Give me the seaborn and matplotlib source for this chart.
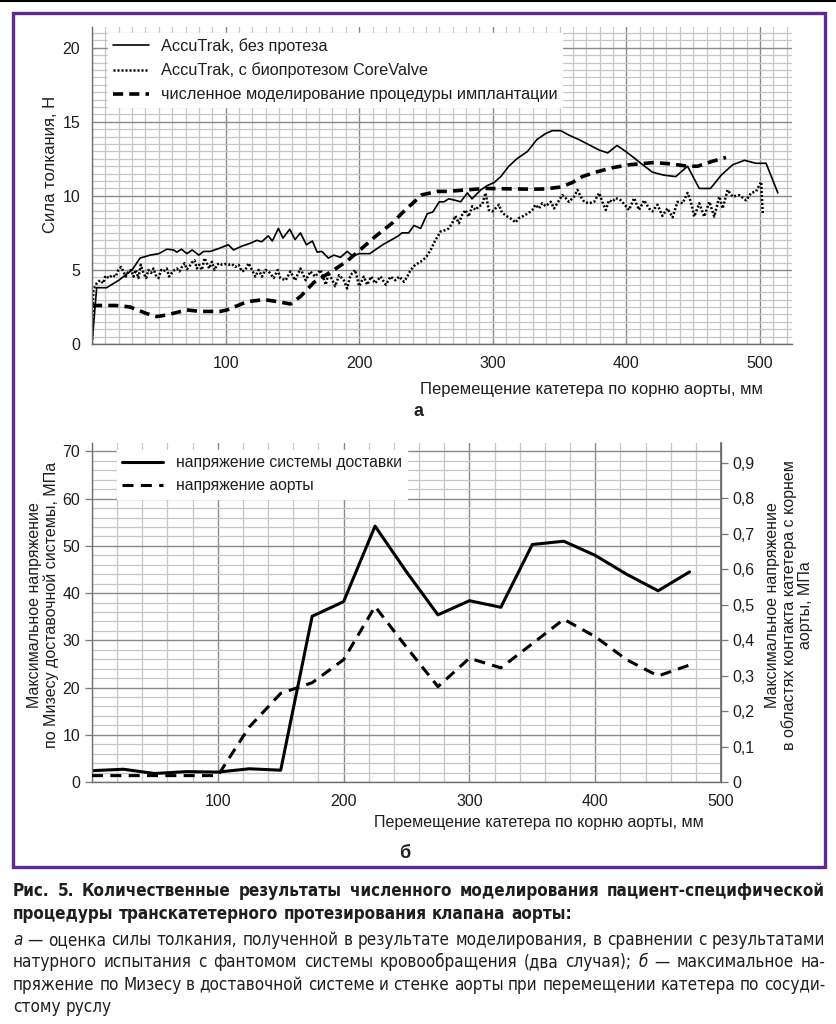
import numpy as np
import pandas as pd
import matplotlib
matplotlib.use("Agg")
import matplotlib.pyplot as plt
import seaborn as sns
from matplotlib import font_manager
from matplotlib.ticker import MultipleLocator, FixedLocator, FuncFormatter
from matplotlib.lines import Line2D
from matplotlib.patches import Rectangle

# =====================================================
# DATA
# =====================================================

# panel a: push force, N vs catheter displacement, mm
x_free = [0, 3.5, 11, 20, 30, 36, 43.5, 50, 56, 61, 63.5, 67, 71, 75, 80, 83.5,
          88.5, 95, 102, 106, 112, 118.5, 123.5, 127, 132, 135, 139.5, 143, 148,
          152, 156, 160.5, 165, 168.5, 172, 177, 181, 186, 191, 195, 200, 208,
          213.5, 218.5, 223.5, 228.5, 232, 237, 241, 246, 251, 255, 260, 263.5,
          267, 272, 276, 281, 284.5, 291, 296, 301, 306, 312, 318, 326, 333,
          339.5, 344.5, 351, 357, 364.5, 372, 379.5, 386, 393, 399.5, 406,
          410.8, 419.5, 428, 437, 445.8, 454.6, 463, 471, 479.6, 488.4, 497,
          504.6, 513.4]
f_free = [0, 3.8, 3.8, 4.3, 5.0, 5.8, 6.0, 6.1, 6.4, 6.35, 6.2, 6.4, 6.1, 6.35,
          6.0, 6.25, 6.25, 6.45, 6.7, 6.35, 6.6, 6.8, 7.0, 6.9, 7.3, 6.95, 7.8,
          7.15, 7.75, 7.05, 7.5, 6.7, 6.95, 6.2, 6.25, 5.8, 6.0, 5.85, 6.25,
          5.95, 6.1, 6.1, 6.45, 6.75, 7.0, 7.25, 7.5, 7.5, 8.0, 7.8, 8.8, 8.9,
          9.6, 9.6, 9.8, 9.7, 9.6, 10.2, 9.8, 10.4, 10.7, 10.9, 11.3, 12.0,
          12.5, 13.0, 13.8, 14.2, 14.4, 14.4, 14.1, 13.8, 13.45, 13.1, 12.9,
          13.4, 13.0, 12.55, 12.2, 11.6, 11.4, 11.3, 12.0, 10.5, 10.5, 11.4,
          12.1, 12.4, 12.2, 12.2, 10.2]

x_valve = [0, 1, 3.5, 6, 8.5, 10, 12.75, 15, 17.75, 19.75, 21.75, 23.5, 25.25,
           27.25, 29.25, 31, 32.75, 34.75, 36.5, 38.5, 40.5, 42.25, 44.25, 46,
           47.75, 49.75, 51.75, 53.5, 56, 57.75, 59.75, 61.75, 63.5, 65.5,
           67.25, 69.25, 71, 72.75, 74.75, 76.75, 78.5, 80.25, 82.25, 84.25, 86,
           87.75, 89.75, 91.75, 93.5, 95.25, 97.25, 99.75, 102.25, 104.75,
           107.25, 109.75, 112.25, 114.75, 117.25, 119.75, 122.25, 124.75,
           127.25, 129.75, 132.25, 136, 139, 141, 145, 148.5, 152, 156, 160,
           163.5, 167, 171, 175, 177, 180, 182, 185, 188.5, 191, 193.5, 197,
           200, 203.5, 206, 209, 212, 216, 220, 223.5, 227, 230, 233.5, 236,
           238.5, 242, 246, 250, 253.5, 257, 261, 265, 267, 269.6, 272, 274.6,
           277, 279.6, 282, 284.6, 287, 289.6, 292, 294.6, 297, 299.6, 302,
           304.6, 307, 311, 314.6, 317, 319.6, 323, 327, 329.6, 332, 334.6, 337,
           339.6, 343.4, 345.9, 349.6, 352, 354.6, 357, 360.9, 363.4, 365.9,
           368.4, 372, 375.9, 379.6, 382, 384.6, 387, 389.6, 392, 395.9, 399.6,
           402, 405.8, 409.5, 413.3, 417, 419.5, 423.3, 427, 430.8, 434.6,
           438.3, 442.1, 445.8, 448.3, 450.8, 454.6, 458.3, 462.1, 465.8,
           469.6, 472.1, 475.8, 479.6, 484.6, 489.6, 493.4, 497.1, 500.9, 502.1]
f_valve = [0, 3.65, 4.1, 4.3, 4.1, 4.6, 4.45, 4.65, 4.55, 5.0, 5.2, 4.9, 4.55,
           4.9, 5.0, 4.55, 5.0, 4.45, 5.35, 4.8, 4.45, 5.0, 4.8, 5.1, 4.65,
           4.45, 5.0, 4.9, 5.1, 4.55, 4.8, 5.0, 5.1, 4.9, 5.2, 5.45, 5.05, 5.2,
           5.5, 5.65, 5.1, 5.35, 5.0, 5.8, 5.45, 5.1, 5.55, 5.0, 5.35, 5.45,
           5.35, 5.4, 5.35, 5.4, 5.2, 5.35, 4.9, 5.0, 5.45, 5.0, 4.55, 5.0,
           4.55, 5.0, 4.9, 4.45, 5.0, 4.45, 4.3, 4.9, 4.3, 5.1, 4.3, 4.9, 4.55,
           5.0, 4.0, 4.8, 4.3, 3.9, 4.65, 4.3, 3.75, 4.65, 5.0, 3.9, 4.55, 4.0,
           4.55, 4.1, 4.55, 4.0, 4.55, 4.3, 4.55, 4.2, 4.55, 5.0, 5.35, 5.55,
           5.85, 6.35, 7.0, 7.6, 7.7, 7.8, 8.15, 8.65, 8.15, 8.7, 9.05, 8.6,
           9.3, 9.05, 9.3, 9.4, 10.2, 9.05, 8.95, 9.15, 9.4, 8.85, 8.6, 8.4,
           8.2, 8.5, 8.65, 8.85, 9.05, 9.4, 9.15, 9.5, 9.3, 9.6, 9.15, 9.7,
           10.05, 9.85, 9.6, 9.95, 10.4, 9.95, 9.6, 9.5, 9.6, 10.2, 9.6, 9.05,
           9.7, 9.6, 9.85, 9.7, 9.3, 9.05, 9.85, 9.05, 9.7, 9.15, 8.95, 9.4,
           8.65, 9.15, 8.55, 9.6, 9.5, 10.2, 9.6, 8.6, 9.5, 8.6, 9.6, 8.6,
           9.95, 9.15, 10.4, 9.95, 10.05, 9.7, 10.2, 10.3, 10.95, 8.8]

x_sim = [0, 18, 28.5, 41, 48.5, 56, 71, 81, 96, 101, 116, 128.5, 139.6, 148.5,
         156, 166, 181, 191, 202, 212, 224.5, 234.5, 247, 258.5, 266, 279.6,
         294.6, 314.6, 329.6, 339.6, 351, 359.6, 367, 377, 389.6, 402, 420.8,
         433.3, 445.8, 453.3, 463.3, 470.9, 474.6]
f_sim = [2.6, 2.6, 2.5, 2.05, 1.85, 1.96, 2.3, 2.2, 2.2, 2.3, 2.85, 3.0, 2.85,
         2.7, 3.2, 4.15, 5.0, 5.6, 6.46, 7.25, 8.15, 9.05, 10.07, 10.3, 10.3,
         10.4, 10.5, 10.47, 10.45, 10.47, 10.6, 10.9, 11.3, 11.6, 11.9, 12.1,
         12.25, 12.16, 12.0, 12.0, 12.3, 12.5, 12.6]

# panel b: von Mises stress
x_step = [0, 25, 50, 75, 100, 125, 150, 175, 200, 225, 250, 275, 300, 325,
          350, 375, 400, 425, 450, 475]
s_delivery = [2.4, 2.7, 1.8, 2.2, 2.1, 2.8, 2.5, 35.1, 38.2, 54.2, 44.5, 35.4,
              38.4, 37.0, 50.3, 51.0, 48.0, 44.0, 40.5, 44.5]
s_aorta = [0.018, 0.018, 0.018, 0.018, 0.018, 0.155, 0.25, 0.28, 0.345, 0.495,
           0.38, 0.269, 0.349, 0.322, 0.39, 0.459, 0.41, 0.345, 0.299, 0.33]

# labels
lab_free = "AccuTrak, без протеза"
lab_valve = "AccuTrak, с биопротезом CoreValve"
lab_sim = "численное моделирование процедуры имплантации"
lab_del = "напряжение системы доставки"
lab_aor = "напряжение аорты"
xlabel_txt = "Перемещение катетера по корню аорты, мм"

caption = [
    ([("Рис. 5. Количественные результаты численного моделирования пациент-специфической", "normal")], "bold", True),
    ([("процедуры транскатетерного протезирования клапана аорты:", "normal")], "bold", False),
    ([("а", "italic"), ("— оценка силы толкания, полученной в результате моделирования, в сравнении с результатами", "normal")], "normal", True),
    ([("натурного испытания с фантомом системы кровообращения (два случая);", "normal"), ("б", "italic"), ("— максимальное на-", "normal")], "normal", True),
    ([("пряжение по Мизесу в доставочной системе и стенке аорты при перемещении катетера по сосуди-", "normal")], "normal", True),
    ([("стому руслу", "normal")], "normal", False),
]

# =====================================================
# SETTINGS
# =====================================================

sns.set_theme(style="white")
plt.rcParams["font.family"] = ["Liberation Sans", "DejaVu Sans"]
plt.rcParams["axes.unicode_minus"] = False

# a narrow face for the caption, if one is installed
cap_family = ["Liberation Sans", "DejaVu Sans"]
cap_stretch = "normal"
for f in font_manager.fontManager.ttflist:
    fn = f.fname.lower()
    if "narrow" in fn or "condensed" in fn:
        if f.name.startswith("Liberation") or f.name.startswith("DejaVu Sans"):
            cap_family = [f.name, "DejaVu Sans"]
            cap_stretch = f.stretch
            if f.name.startswith("Liberation"):
                break

W, H = 836, 1024
fig = plt.figure(figsize=(W / 100, H / 100), dpi=100)
fig.patch.set_facecolor("white")

TXT = "#1e1e1e"
MAJ = "#8a8a8a"
MIN = "#c6c6c6"


def px_axes(x0, y0, x1, y1):
    return fig.add_axes([x0 / W, 1 - y1 / H, (x1 - x0) / W, (y1 - y0) / H])


def style_grid(ax):
    ax.set_axisbelow(True)
    ax.grid(which="major", color=MAJ, lw=1.0)
    ax.grid(which="minor", color=MIN, lw=0.9)
    ax.set_facecolor("white")
    for s in ax.spines.values():
        s.set_color("#6e6e6e")
        s.set_linewidth(1.0)
    ax.spines["top"].set_visible(False)
    ax.tick_params(which="both", colors="#777777", labelcolor=TXT,
                   labelsize=11.5, width=0.9)
    ax.tick_params(which="major", length=5)


# =====================================================
# PANEL A
# =====================================================

ax1 = px_axes(92, 27, 792, 344)

sns.lineplot(x=x_free, y=f_free, ax=ax1, color="black", lw=1.2,
             estimator=None, sort=False, label=lab_free)
sns.lineplot(x=x_valve, y=f_valve, ax=ax1, color="black", lw=1.8,
             linestyle=(0, (0.8, 0.8)), estimator=None, sort=False,
             label=lab_valve)
sns.lineplot(x=x_sim, y=f_sim, ax=ax1, color="black", lw=2.6,
             linestyle=(0, (2.8, 1.7)), estimator=None, sort=False,
             label=lab_sim)

ax1.set_xlim(0, 524)
ax1.set_ylim(0, 21.4)
ax1.xaxis.set_major_locator(FixedLocator([100, 200, 300, 400, 500]))
ax1.xaxis.set_minor_locator(MultipleLocator(10))
ax1.yaxis.set_major_locator(MultipleLocator(5))
ax1.yaxis.set_minor_locator(MultipleLocator(0.5))
style_grid(ax1)
ax1.spines["right"].set_visible(False)
ax1.tick_params(axis="x", which="minor", length=4)
ax1.tick_params(axis="y", which="minor", length=0)

ax1.set_xlabel(xlabel_txt, fontsize=12, color=TXT)
ax1.xaxis.set_label_coords(0.714, -0.12)
ax1.set_ylabel("Сила толкания, Н", fontsize=12, color=TXT)
ax1.yaxis.set_label_coords(-0.049, 0.568)

ax1.legend(loc="upper left", bbox_to_anchor=(16 / 700, 1 - 6 / 317),
           borderaxespad=0, frameon=True, fancybox=False,
           facecolor="white", edgecolor="white", framealpha=1,
           fontsize=11.7, handlelength=2.2, handletextpad=0.75,
           labelspacing=0.55, borderpad=0.3, labelcolor=TXT)

fig.text(418 / W, 1 - 411 / H, "а", fontsize=13, fontweight="bold",
         color=TXT, ha="center", va="center")

# =====================================================
# PANEL B
# =====================================================

ax2 = px_axes(92, 443, 721, 782)
ax3 = ax2.twinx()

sns.lineplot(x=x_step, y=s_delivery, ax=ax2, color="black", lw=2.2,
             estimator=None, sort=False, legend=False)
sns.lineplot(x=x_step, y=s_aorta, ax=ax3, color="black", lw=2.2,
             linestyle=(0, (3.6, 2.4)), estimator=None, sort=False,
             legend=False)

ax2.set_xlim(0, 500)
ax2.set_ylim(0, 71.8)
ax3.set_ylim(0, 71.8 / 75.1)
ax2.xaxis.set_major_locator(FixedLocator([100, 200, 300, 400, 500]))
ax2.xaxis.set_minor_locator(MultipleLocator(20))
ax2.yaxis.set_major_locator(MultipleLocator(10))
ax2.yaxis.set_minor_locator(MultipleLocator(2))
style_grid(ax2)
ax2.tick_params(axis="x", which="minor", length=4)
ax2.tick_params(axis="y", which="minor", length=0)
ax2.set_zorder(ax3.get_zorder() - 1)
ax3.patch.set_visible(False)

ax3.yaxis.set_major_locator(MultipleLocator(0.1))
ax3.yaxis.set_major_formatter(FuncFormatter(
    lambda v, p: "0" if abs(v) < 1e-9 else f"{v:.1f}".replace(".", ",")))
for s in ax3.spines.values():
    s.set_visible(False)
ax3.spines["right"].set_visible(True)
ax3.spines["right"].set_color("#6e6e6e")
ax3.tick_params(colors="#777777", labelcolor=TXT, labelsize=11.5,
                length=5, width=0.9)
ax3.grid(False)

ax2.set_xlabel(xlabel_txt, fontsize=11.5, color=TXT)
ax2.xaxis.set_label_coords(0.711, -0.097)
ax2.set_ylabel("Максимальное напряжение\nпо Мизесу доставочной системы, МПа",
               fontsize=11.5, color=TXT, linespacing=1.1)
ax2.yaxis.set_label_coords(-0.053, 0.522)
ax3.set_ylabel("Максимальное напряжение\nв областях контакта катетера с корнем\nаорты, МПа",
               fontsize=11.5, color=TXT, linespacing=1.1, rotation=90)
ax3.yaxis.set_label_coords(1.07, 0.522)

handles = [Line2D([], [], color="black", lw=2.2),
           Line2D([], [], color="black", lw=2.2, linestyle=(0, (3.6, 2.4)))]
ax3.legend(handles, [lab_del, lab_aor], loc="upper left",
           bbox_to_anchor=(25 / 629, 1 - 7 / 339), borderaxespad=0,
           frameon=True, fancybox=False, facecolor="white",
           edgecolor="white", framealpha=1, fontsize=11.3, handlelength=2.6,
           handletextpad=0.8, labelspacing=0.5, borderpad=0.35,
           labelcolor=TXT)

fig.text(405 / W, 1 - 853 / H, "б", fontsize=13, fontweight="bold",
         color=TXT, ha="center", va="center")

# =====================================================
# FRAME
# =====================================================

fig.patches.append(Rectangle((13 / W, 1 - 867 / H), (825 - 13) / W,
                             (867 - 13) / H, transform=fig.transFigure,
                             fill=False, edgecolor="#5a2d86", lw=2.4))
fig.add_artist(Line2D([0, 1], [1 - 1 / H, 1 - 1 / H], color="black",
                      lw=1.5, transform=fig.transFigure))

# =====================================================
# CAPTION (justified lines)
# =====================================================

renderer = fig.canvas.get_renderer()
cap_x0, cap_x1 = 13, 825
cap_y = [891, 914, 940, 962, 985, 1007]

lines = []
for (segs, weight, justify), yy in zip(caption, cap_y):
    words = []
    for text, st in segs:
        for w in text.split(" "):
            words.append((w, st))
    arts = [fig.text(0, 1 - yy / H, w, fontweight=weight, fontstyle=st,
                     family=cap_family, fontstretch=cap_stretch, color=TXT,
                     ha="left", va="center") for w, st in words]
    probe = fig.text(0, 0, "a", fontweight=weight, family=cap_family,
                     fontstretch=cap_stretch)
    lines.append((arts, justify, probe))


def measure(size):
    out = []
    for arts, justify, probe in lines:
        for a in arts:
            a.set_fontsize(size)
        probe.set_fontsize(size)
        probe.set_text("a b")
        sp = probe.get_window_extent(renderer).width
        probe.set_text("ab")
        sp -= probe.get_window_extent(renderer).width
        widths = [a.get_window_extent(renderer).width for a in arts]
        out.append((widths, sp))
    return out


# largest size at which every justified line still fits
cap_size = 13.5
while cap_size > 9:
    res = measure(cap_size)
    ok = all(sum(w) + 0.85 * sp * (len(w) - 1) <= cap_x1 - cap_x0
             for (w, sp), (arts, justify, _) in zip(res, lines) if justify)
    if ok:
        break
    cap_size -= 0.25
res = measure(cap_size)

for (arts, justify, probe), (widths, sp) in zip(lines, res):
    probe.remove()
    if justify and len(arts) > 1:
        gap = (cap_x1 - cap_x0 - sum(widths)) / (len(arts) - 1)
    else:
        gap = sp
    x = cap_x0
    for a, wd in zip(arts, widths):
        a.set_x(x / W)
        x += wd + gap

fig.savefig("out.png", dpi=100, facecolor="white")
